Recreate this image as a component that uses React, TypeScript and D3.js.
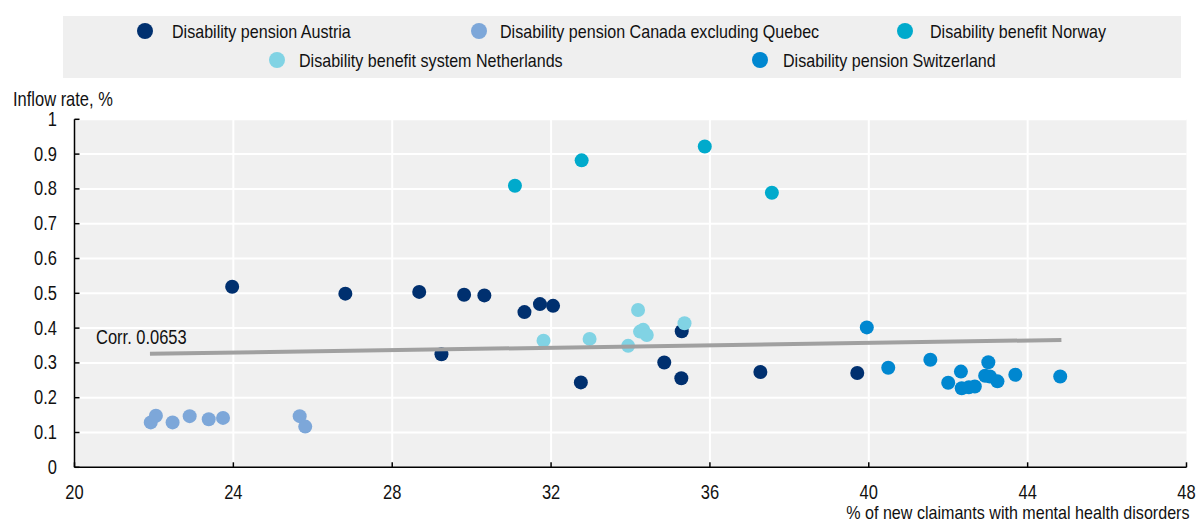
import React from "react";
import * as d3 from "d3";

// Share of new claimants with mental health disorders (x, %) vs inflow rate (y, %)
const austriaX = [23.97, 26.82, 28.68, 29.81, 30.32, 31.33, 31.72, 32.05, 29.24, 32.75, 34.85, 35.29, 35.28, 37.27, 39.71];
const austriaY = [0.519, 0.499, 0.504, 0.496, 0.494, 0.446, 0.469, 0.464, 0.325, 0.244, 0.301, 0.391, 0.256, 0.274, 0.271];

const canadaX = [21.92, 22.05, 22.47, 22.9, 23.38, 23.74, 25.67, 25.81];
const canadaY = [0.129, 0.148, 0.129, 0.147, 0.138, 0.142, 0.147, 0.117];

const norwayX = [31.09, 32.77, 35.87, 37.56];
const norwayY = [0.809, 0.882, 0.922, 0.789];

const netherlandsX = [31.81, 32.97, 34.19, 33.94, 34.24, 34.32, 34.41, 35.36];
const netherlandsY = [0.364, 0.369, 0.452, 0.349, 0.39, 0.395, 0.38, 0.414];

const switzerlandX = [39.95, 40.49, 41.55, 42.0, 42.32, 42.34, 42.52, 42.67, 43.01, 42.93, 43.05, 43.24, 43.69, 44.82];
const switzerlandY = [0.402, 0.286, 0.309, 0.243, 0.275, 0.227, 0.23, 0.232, 0.302, 0.263, 0.261, 0.247, 0.266, 0.261];

// Fitted trend line end points
const trendX = [21.9, 44.85];
const trendY = [0.326, 0.366];
const corrLabel = "Corr. 0.0653";

const xTicks = [20, 24, 28, 32, 36, 40, 44, 48];
const yTicks = [0, 0.1, 0.2, 0.3, 0.4, 0.5, 0.6, 0.7, 0.8, 0.9, 1];

const seriesNames = [
  "Disability pension Austria",
  "Disability pension Canada excluding Quebec",
  "Disability benefit Norway",
  "Disability benefit system Netherlands",
  "Disability pension Switzerland",
];
const seriesColors = ["#00306F", "#7DA7D9", "#00AACC", "#81D3E4", "#0087D0"];

const W = 1204;
const H = 523;
const left = 74.5;
const right = 1186.5;
const top = 119.3;
const bottom = 467.3;
const FONT = "'Liberation Sans', Arial, sans-serif";

// Text with a slightly tall, narrow face
function T({ x, y, size, anchor = "start", children }: { x: number; y: number; size: number; anchor?: string; children: React.ReactNode }) {
  return (
    <g transform={`translate(${x},${y}) scale(0.97,1.14)`}>
      <text x={0} y={0} fontSize={size} textAnchor={anchor} fill="#111">
        {children}
      </text>
    </g>
  );
}

export default function App() {
  const x = d3.scaleLinear().domain([20, 48]).range([left, right]);
  const y = d3.scaleLinear().domain([0, 1]).range([bottom, top]);

  const series = [
    { xs: austriaX, ys: austriaY },
    { xs: canadaX, ys: canadaY },
    { xs: norwayX, ys: norwayY },
    { xs: netherlandsX, ys: netherlandsY },
    { xs: switzerlandX, ys: switzerlandY },
  ];

  // legend layout: two centred rows
  const legendItems = [
    { i: 0, mx: 145, tx: 172, cy: 31 },
    { i: 1, mx: 479, tx: 500, cy: 31 },
    { i: 2, mx: 905, tx: 930, cy: 31 },
    { i: 3, mx: 277, tx: 299, cy: 60 },
    { i: 4, mx: 760, tx: 783, cy: 60 },
  ];

  const line = d3
    .line<number>()
    .x((_, i) => x(trendX[i]))
    .y((_, i) => y(trendY[i]));

  return (
    <svg
      width={W}
      height={H}
      style={{ position: "absolute", left: 0, top: 0, background: "#fff" }}
      fontFamily={FONT}
    >
      {/* legend */}
      <rect x={63} y={16} width={1118} height={62} fill="#EFEFEF" />
      {legendItems.map((d) => (
        <g key={d.i}>
          <circle cx={d.mx} cy={d.cy} r={8} fill={seriesColors[d.i]} />
          <T x={d.tx} y={d.cy + 6.5} size={16.6}>
            {seriesNames[d.i]}
          </T>
        </g>
      ))}

      {/* plot background and grid */}
      <rect x={left} y={top} width={right - left} height={bottom - top} fill="#F0F0F0" />
      {yTicks.slice(1).map((t) => (
        <line key={"gy" + t} x1={left} x2={right} y1={y(t)} y2={y(t)} stroke="#fff" strokeWidth={2} />
      ))}
      {xTicks.slice(1, -1).map((t) => (
        <line key={"gx" + t} x1={x(t)} x2={x(t)} y1={top} y2={bottom} stroke="#fff" strokeWidth={2} />
      ))}

      {/* axes */}
      <line x1={left} x2={left} y1={top} y2={bottom} stroke="#000" strokeWidth={1.5} />
      <line x1={left} x2={right} y1={bottom} y2={bottom} stroke="#000" strokeWidth={1.5} />
      {yTicks.map((t) => (
        <g key={"ty" + t}>
          <line x1={left} x2={left + 5} y1={y(t)} y2={y(t)} stroke="#000" strokeWidth={1.5} />
          <T x={57} y={y(t) + 6.5} size={17} anchor="end">
            {d3.format("~g")(t)}
          </T>
        </g>
      ))}
      {xTicks.map((t) => (
        <g key={"tx" + t}>
          <line x1={x(t)} x2={x(t)} y1={bottom} y2={bottom - 5} stroke="#000" strokeWidth={1.5} />
          <T x={x(t)} y={499} size={17} anchor="middle">
            {t}
          </T>
        </g>
      ))}
      <T x={13} y={106} size={17}>
        Inflow rate, %
      </T>
      <T x={right + 3} y={519} size={16.6} anchor="end">
        % of new claimants with mental health disorders
      </T>

      {/* points */}
      {series.map((s, si) =>
        s.xs.map((xv, j) => (
          <circle key={si + "-" + j} cx={x(xv)} cy={y(s.ys[j])} r={7} fill={seriesColors[si]} />
        ))
      )}

      {/* trend line and correlation */}
      <path d={line([0, 1]) ?? ""} stroke="#A0A0A0" strokeWidth={4} fill="none" />
      <T x={96} y={343.5} size={17}>
        {corrLabel}
      </T>
    </svg>
  );
}
